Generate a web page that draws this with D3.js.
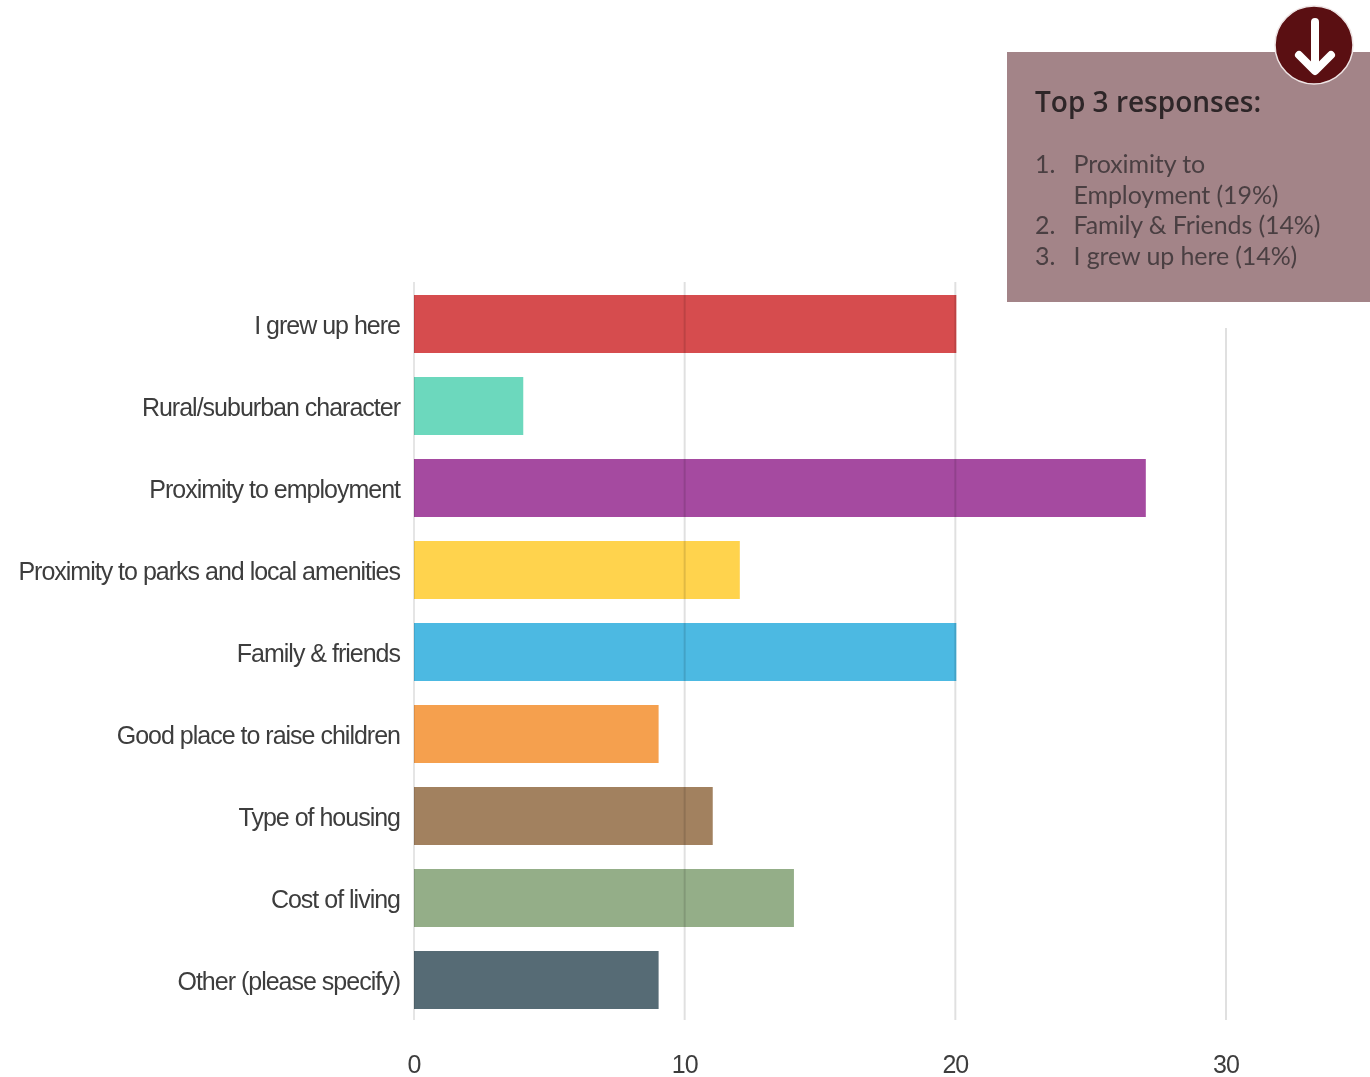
<!DOCTYPE html>
<html><head><meta charset="utf-8">
<script src="https://cdn.jsdelivr.net/npm/d3@7/dist/d3.min.js"></script>
<style>html,body{margin:0;padding:0;background:#fff;overflow:hidden}svg{display:block;filter:blur(0.5px)}</style>
</head><body><svg id="c" width="1370" height="1077"></svg>
<script>
const categories=["I grew up here","Rural/suburban character","Proximity to employment","Proximity to parks and local amenities","Family & friends","Good place to raise children","Type of housing","Cost of living","Other (please specify)"];
const values=[20,4,27,12,20,9,11,14,9];
const colors=["#d64c4e","#6cd8bd","#a54aa0","#ffd34d","#4cb9e2","#f5a04e","#a2815f","#94ae88","#566b75"];
const ticks=[0,10,20,30];
const noteTitle="Top 3 responses:";
const noteNumbers=["1.","","2.","3."];
const noteLines=["Proximity to","Employment (19%)","Family & Friends (14%)","I grew up here (14%)"];

const svg=d3.select("#c");
const x=d3.scaleLinear().domain([0,30]).range([414,1226]);
const y=d3.scaleBand().domain(categories).range([283,1021]).paddingInner(24/82).paddingOuter(12/82);

// bars
svg.append("g").selectAll("rect").data(categories).join("rect")
  .attr("x",x(0)).attr("y",d=>y(d)).attr("height",y.bandwidth())
  .attr("width",(d,i)=>x(values[i])-x(0)+1)
  .attr("fill",(d,i)=>colors[i]);

// gridlines, translucent so they show faintly through the bars
svg.append("g").selectAll("line").data(ticks).join("line")
  .attr("x1",d=>x(d)).attr("x2",d=>x(d)).attr("y1",282).attr("y2",1020)
  .attr("stroke","#000").attr("stroke-opacity",d=>d===0?0.1:0.12).attr("stroke-width",2);

// category labels
svg.append("g").selectAll("text").data(categories).join("text")
  .attr("x",400).attr("y",d=>y(d)+y.bandwidth()/2+10).attr("text-anchor","end")
  .attr("font-family","Liberation Sans").attr("font-size",25).attr("fill","#3d3d3d")
  .attr("letter-spacing","-1").text(d=>d);

// axis labels
svg.append("g").selectAll("text").data(ticks).join("text")
  .attr("x",d=>x(d)).attr("y",1073).attr("text-anchor","middle")
  .attr("font-family","Liberation Sans").attr("font-size",25).attr("fill","#3d3d3d")
  .attr("letter-spacing","-1").text(d=>d);

// annotation panel
svg.append("rect").attr("x",1007).attr("y",302).attr("width",363).attr("height",26).attr("fill","#fff");
svg.append("rect").attr("x",1007).attr("y",52).attr("width",363).attr("height",250).attr("fill","#a38488");
svg.append("text").attr("x",1035).attr("y",112).attr("font-family","Open Sans").attr("font-weight",600)
  .attr("font-size",28).attr("fill","#2e2628").text(noteTitle);
const rows=[173,204,234,265];
const g=svg.append("g").attr("font-family","Lato").attr("font-size",25).attr("fill","#4a3f42");
g.selectAll("text.n").data(noteNumbers).join("text").attr("class","n").attr("x",1035).attr("y",(d,i)=>rows[i]).text(d=>d);
g.selectAll("text.l").data(noteLines).join("text").attr("class","l").attr("x",1073.5).attr("y",(d,i)=>rows[i]).attr("letter-spacing","-0.1").text(d=>d);

// download badge
svg.append("circle").attr("cx",1314).attr("cy",45).attr("r",39).attr("fill","#5a0f12").attr("stroke","#eee4e4").attr("stroke-width",1.5);
svg.append("path").attr("d","M1315 22V70M1299 55L1315 71L1331 55").attr("fill","none")
  .attr("stroke","#fff").attr("stroke-width",8).attr("stroke-linecap","round").attr("stroke-linejoin","round");
</script></body></html>
